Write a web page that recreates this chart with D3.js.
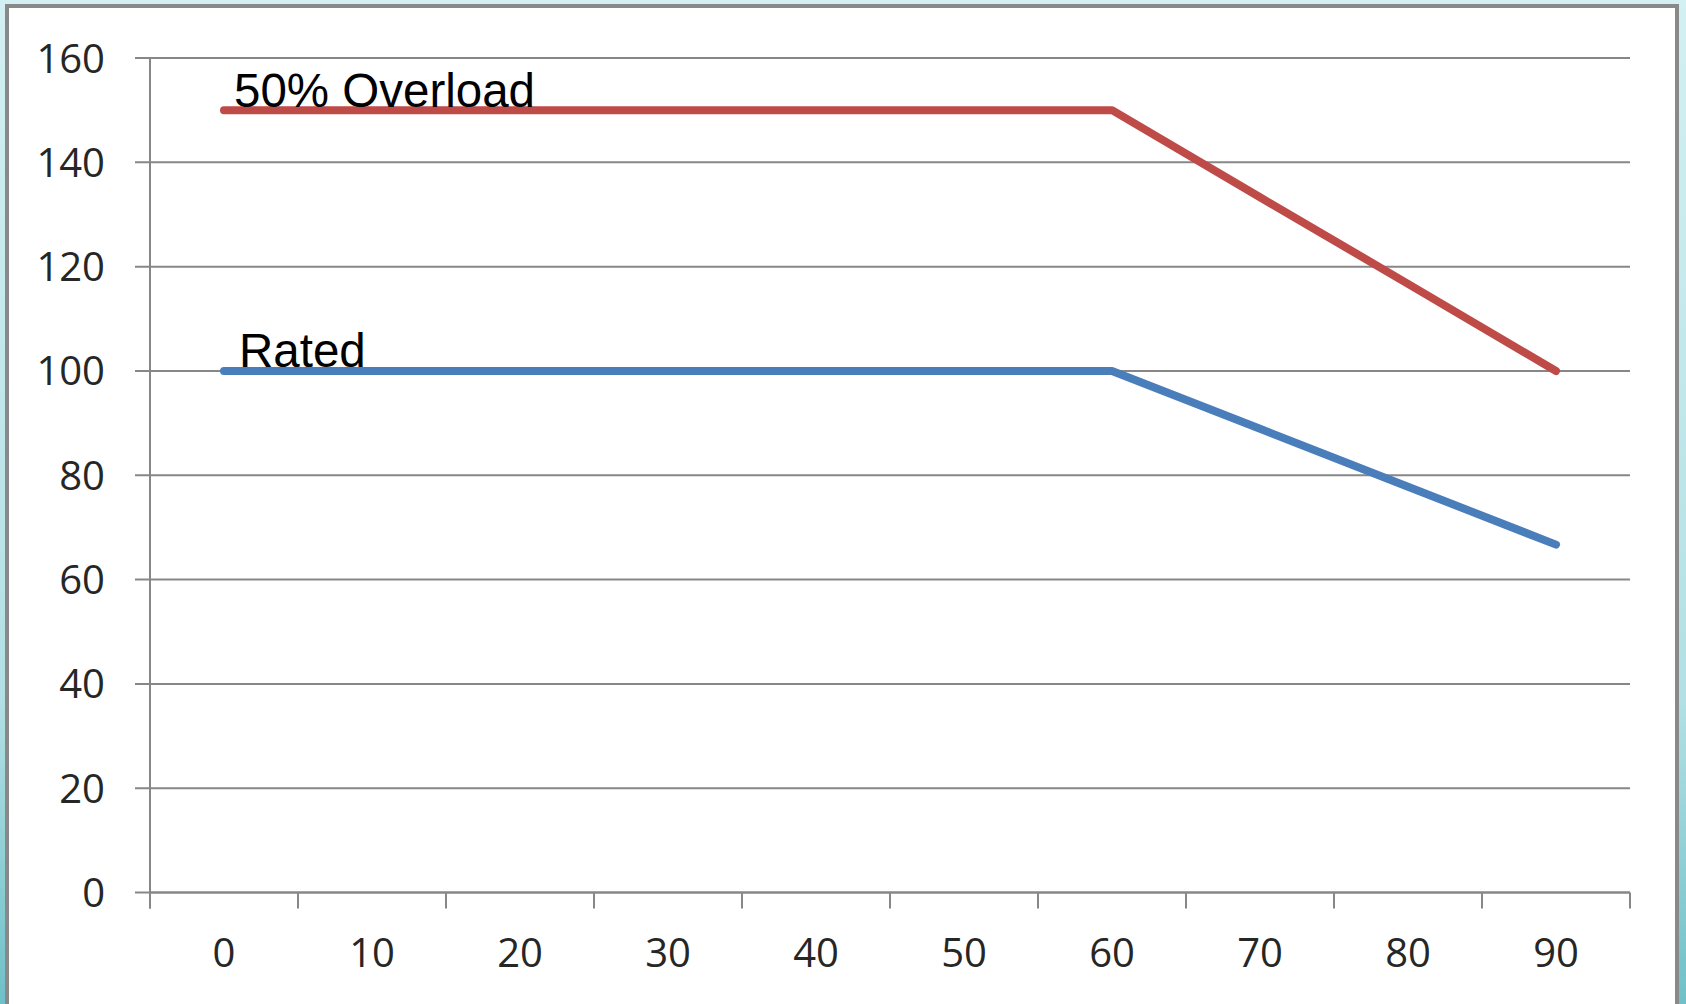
<!DOCTYPE html>
<html>
<head>
<meta charset="utf-8">
<script src="https://cdn.jsdelivr.net/npm/d3@7"></script>
<style>
  html, body { margin: 0; padding: 0; overflow: hidden; background: #fff; }
  svg { display: block; }
</style>
</head>
<body>
<svg id="chart" width="1686" height="1004"></svg>
<script>
const categories = [0, 10, 20, 30, 40, 50, 60, 70, 80, 90];
const ratedValues = [100, 100, 100, 100, 100, 100, 100, 88.9, 77.8, 66.7];
const overloadValues = [150, 150, 150, 150, 150, 150, 150, 133.3, 116.7, 100];
const yTicks = [0, 20, 40, 60, 80, 100, 120, 140, 160];
const seriesNames = ["Rated", "50% Overload"];

(function () {
const svg = d3.select("#chart");
const W = 1686, H = 1004;

// background frame
const defs = svg.append("defs");
const grad = defs.append("linearGradient").attr("id", "bg").attr("x1", 0).attr("y1", 0).attr("x2", 0).attr("y2", 1);
grad.append("stop").attr("offset", "0%").attr("stop-color", "#d3f0f2");
grad.append("stop").attr("offset", "70%").attr("stop-color", "#b2e0e4");
grad.append("stop").attr("offset", "100%").attr("stop-color", "#6fc0c8");
svg.append("rect").attr("width", W).attr("height", H).attr("fill", "url(#bg)");
svg.append("rect").attr("x", 7).attr("y", 6).attr("width", 1670).attr("height", 1020)
  .attr("fill", "#ffffff").attr("stroke", "#898989").attr("stroke-width", 4);

const mLeft = 150, mRight = 1630, mTop = 58, mBottom = 892.5;
const x = d3.scaleBand().domain(categories).range([mLeft, mRight]).paddingInner(0).paddingOuter(0);
const y = d3.scaleLinear().domain([0, 160]).range([mBottom, mTop]);
const cx = d => x(d) + x.bandwidth() / 2;

const gridColor = "#878787";
const labelFont = "'Open Sans', 'DejaVu Sans', sans-serif";

// horizontal gridlines (extend left past axis as ticks)
svg.append("g").selectAll("line").data(yTicks).join("line")
  .attr("x1", mLeft - 15).attr("x2", mRight)
  .attr("y1", d => y(d)).attr("y2", d => y(d))
  .attr("stroke", gridColor).attr("stroke-width", 2);

// y axis
const yAxis = d3.axisLeft(y).tickValues(yTicks).tickSize(0).tickPadding(45);
const gy = svg.append("g").attr("transform", `translate(${mLeft},0)`).call(yAxis);
gy.select(".domain").remove();
gy.selectAll("text").attr("font-family", labelFont).attr("font-size", 40)
  .attr("fill", "#262626").attr("dy", "0.35em");
svg.append("line").attr("x1", mLeft).attr("x2", mLeft).attr("y1", mTop).attr("y2", mBottom + 16)
  .attr("stroke", gridColor).attr("stroke-width", 2);

// x axis
const xAxis = d3.axisBottom(x).tickSize(0).tickPadding(46);
const gx = svg.append("g").attr("transform", `translate(0,${mBottom})`).call(xAxis);
gx.select(".domain").remove();
gx.selectAll("text").attr("font-family", labelFont).attr("font-size", 40).attr("fill", "#262626");
svg.append("line").attr("x1", mLeft).attr("x2", mRight).attr("y1", mBottom).attr("y2", mBottom)
  .attr("stroke", gridColor).attr("stroke-width", 2);
const boundaries = categories.map(c => x(c)).concat([mRight]);
svg.append("g").selectAll("line").data(boundaries).join("line")
  .attr("x1", d => d).attr("x2", d => d).attr("y1", mBottom).attr("y2", mBottom + 16)
  .attr("stroke", gridColor).attr("stroke-width", 2);

// series
const line = d3.line().x(d => cx(d.c)).y(d => y(d.v));
const series = [
  { name: seriesNames[0], values: ratedValues, color: "#4a7ebb" },
  { name: seriesNames[1], values: overloadValues, color: "#be4b48" }
];
series.forEach(s => {
  const pts = categories.map((c, i) => ({ c, v: s.values[i] }));
  svg.append("path").attr("d", line(pts)).attr("fill", "none")
    .attr("stroke", s.color).attr("stroke-width", 8)
    .attr("stroke-linecap", "round").attr("stroke-linejoin", "round");
});

// data labels
svg.append("text").attr("x", cx(categories[0]) + 10).attr("y", y(overloadValues[0]) - 3)
  .attr("font-family", "'Liberation Sans', Arial, sans-serif").attr("font-size", 47.5)
  .attr("fill", "#000").text(seriesNames[1]);
svg.append("text").attr("x", cx(categories[0]) + 15).attr("y", y(ratedValues[0]) - 4)
  .attr("font-family", "'Liberation Sans', Arial, sans-serif").attr("font-size", 47.5)
  .attr("fill", "#000").text(seriesNames[0]);
})();
</script>
</body>
</html>
